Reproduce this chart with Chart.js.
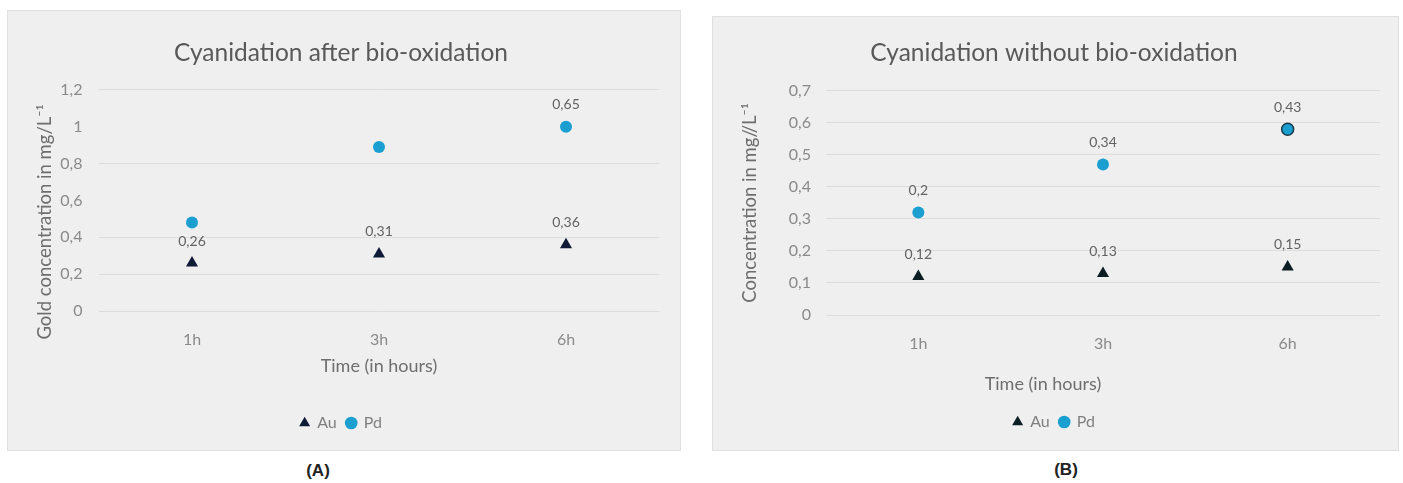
<!DOCTYPE html>
<html><head><meta charset="utf-8">
<script src="https://cdn.jsdelivr.net/npm/chart.js@4/dist/chart.umd.min.js"></script>
<style>
html,body{margin:0;padding:0;background:#fff;width:1403px;height:483px;overflow:hidden;}
.panel{position:absolute;background:#efefef;box-shadow:inset 0 0 0 1px #e0e0e0;}
.panel canvas{position:absolute;left:0;top:0;display:block;}
#pa{left:7px;top:10px;width:674px;height:441px;}
#pb{left:712px;top:16px;width:687px;height:435px;}
.cap{position:absolute;font:bold 17px "Liberation Sans",Arial,sans-serif;color:#222;transform:translateX(-50%);}
</style></head>
<body>
<div class="panel" id="pa"><canvas id="ca" width="674" height="441"></canvas></div>
<div class="panel" id="pb"><canvas id="cb" width="687" height="435"></canvas></div>
<div class="cap" style="left:318px;top:461px;">(A)</div>
<div class="cap" style="left:1066px;top:460px;">(B)</div>
<script>
// ---- data ----
const categories = ['1h', '3h', '6h'];
const auA = [0.26, 0.31, 0.36];
const pdA = [0.48, 0.89, 1.00];
const auLabelsA = ['0,26', '0,31', '0,36'];
const pdLabelsA = [null, null, '0,65'];
const auB = [0.12, 0.13, 0.15];
const pdB = [0.32, 0.47, 0.58];
const auLabelsB = ['0,12', '0,13', '0,15'];
const pdLabelsB = ['0,2', '0,34', '0,43'];
const titleA = 'Cyanidation after bio-oxidation';
const titleB = 'Cyanidation without bio-oxidation';
const xTitle = 'Time (in hours)';
const yTitleA = 'Gold concentration in mg/L\u207B\u00B9';
const yTitleB = 'Concentration in mg//L\u207B\u00B9';

const FONT = 'Lato, "Open Sans", sans-serif';
const PD = '#1b9fd1';
const fmt = v => String(Math.round(v * 10) / 10).replace('.', ',');

const extras = {
  id: 'extras',
  afterDraw(chart, args, o) {
    const ctx = chart.ctx, ca = chart.chartArea;
    ctx.save();
    ctx.textAlign = 'center'; ctx.textBaseline = 'middle';
    ctx.font = '14px ' + FONT; ctx.fillStyle = '#626262';
    chart.data.datasets.forEach((ds, i) => {
      chart.getDatasetMeta(i).data.forEach((pt, j) => {
        const t = ds.valueLabels && ds.valueLabels[j];
        if (t) ctx.fillText(t, pt.x, pt.y - o.labelOffset);
      });
    });
    ctx.font = '18px ' + FONT; ctx.fillStyle = '#6e6e6e';
    ctx.fillText(o.xTitle, (ca.left + ca.right) / 2 + o.xDx, ca.bottom + o.xDy);
    ctx.font = '18.5px ' + FONT;
    ctx.translate(o.yX, (ca.top + ca.bottom) / 2 + o.yDy);
    ctx.rotate(-Math.PI / 2);
    ctx.fillText(o.yTitle, 0, 0);
    ctx.restore();
  }
};

function makeChart(id, cfg) {
  return new Chart(document.getElementById(id), {
    type: 'line',
    data: {
      labels: categories,
      datasets: [
        { label: 'Au', data: cfg.au, valueLabels: cfg.auLabels, showLine: false,
          pointStyle: 'triangle', pointRadius: 7, pointHoverRadius: 7,
          pointBackgroundColor: cfg.auColor, pointBorderColor: cfg.auColor, pointBorderWidth: 0,
          backgroundColor: cfg.auColor, borderColor: cfg.auColor },
        { label: 'Pd', data: cfg.pd, valueLabels: cfg.pdLabels, showLine: false,
          pointStyle: 'circle', pointRadius: 6, pointHoverRadius: 6,
          pointBackgroundColor: PD, pointBorderColor: cfg.pdBorder, pointBorderWidth: cfg.pdBorderW,
          backgroundColor: PD, borderColor: PD }
      ]
    },
    options: {
      responsive: false, animation: false, events: [],
      layout: { padding: { left: cfg.padLeft, right: cfg.padRight, top: 0, bottom: cfg.padBottom } },
      plugins: {
        title: { display: true, text: cfg.title, color: '#595959',
          font: { family: FONT, size: 24.5, weight: 'normal' },
          padding: { top: cfg.titleTop, bottom: cfg.titleBottom } },
        legend: { display: true, position: 'bottom',
          labels: { usePointStyle: true, boxWidth: 9, boxHeight: 9, padding: 10,
            color: '#7f7f7f', font: { family: FONT, size: 16 } } },
        tooltip: { enabled: false },
        extras: { labelOffset: 22, xTitle: xTitle, xDx: cfg.xDx, xDy: cfg.xDy,
          yTitle: cfg.yTitle, yX: 38, yDy: cfg.yDy }
      },
      scales: {
        x: { offset: true,
          grid: { display: false, drawTicks: false }, border: { display: false },
          ticks: { color: '#8a8a8a', padding: 19, font: { family: FONT, size: 16 } },
          afterFit: s => { s.height = cfg.xH; } },
        y: { min: 0, max: cfg.max,
          grid: { drawTicks: false, lineWidth: 1,
            color: c => (cfg.hideGrid.includes(Math.round(c.tick.value * 10) / 10) ? 'rgba(0,0,0,0)' : '#dcdcdc') },
          border: { display: false },
          ticks: { stepSize: cfg.step, color: '#8a8a8a', padding: cfg.tickPad,
            font: { family: FONT, size: 16 }, callback: v => fmt(v) },
          afterFit: s => { s.width = cfg.yW; } }
      }
    },
    plugins: [extras]
  });
}

makeChart('ca', { au: auA, pd: pdA, auLabels: auLabelsA, pdLabels: pdLabelsA,
  auColor: '#0e1a36', pdBorder: PD, pdBorderW: 0, title: titleA, yTitle: yTitleA,
  max: 1.2, step: 0.2, hideGrid: [1, 0.6],
  padLeft: 15.5, padRight: 21.5, padBottom: 10, titleTop: 28.5, titleBottom: 22, xH: 94, yW: 76, tickPad: 16,
  xDx: 0, xDy: 55, yDy: 21.5 });

makeChart('cb', { au: auB, pd: pdB, auLabels: auLabelsB, pdLabels: pdLabelsB,
  auColor: '#0b1e24', pdBorder: [PD, PD, '#1d3b47'], pdBorderW: [0, 0, 1.5], title: titleB, yTitle: yTitleB,
  max: 0.7, step: 0.1, hideGrid: [],
  padLeft: 16, padRight: 19, padBottom: 11, titleTop: 22.5, titleBottom: 23, xH: 89, yW: 98, tickPad: 15,
  xDx: -60, xDy: 69, yDy: 0 });
</script>
</body></html>
